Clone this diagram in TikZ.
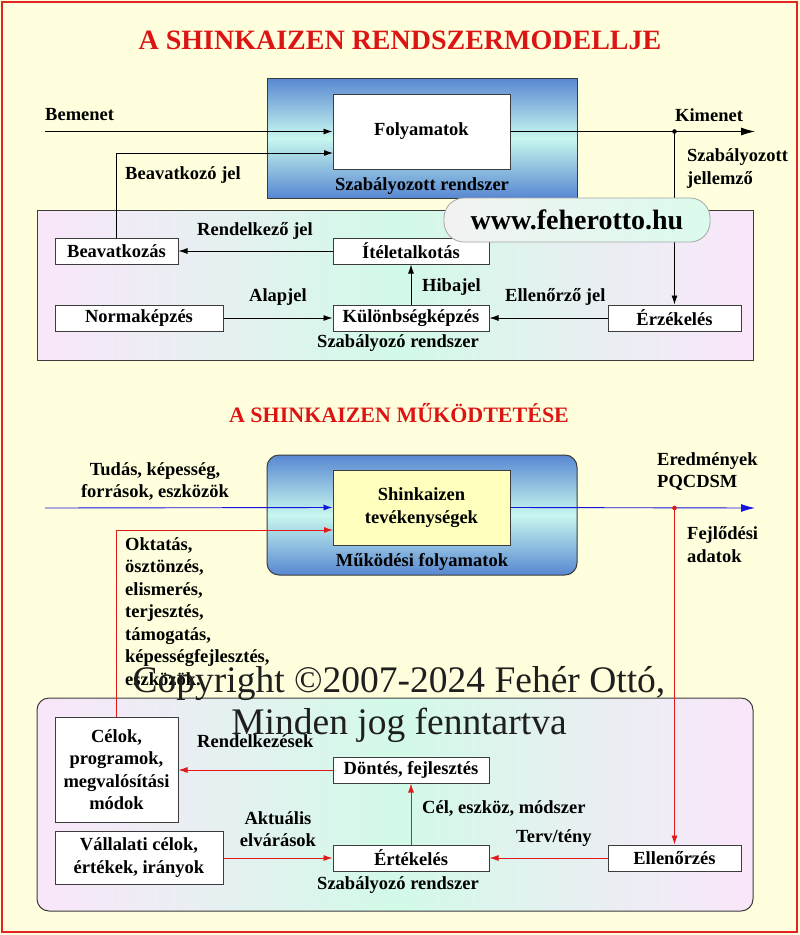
\documentclass[tikz,border=0pt]{standalone}
\usepackage{fontspec}
\setmainfont{Liberation Serif}
\usetikzlibrary{arrows.meta,positioning,calc}
\definecolor{bgyellow}{RGB}{255,255,221}
\definecolor{frame}{RGB}{230,35,35}
\definecolor{blueA}{RGB}{88,135,210}
\definecolor{blueM}{RGB}{200,248,238}
\definecolor{pinkA}{RGB}{250,230,250}
\definecolor{aquaA}{RGB}{210,250,232}
\definecolor{boxline}{RGB}{60,60,60}
\definecolor{yelbox}{RGB}{255,255,190}
\definecolor{redline}{RGB}{225,25,25}
\definecolor{blueline}{RGB}{20,20,220}
\definecolor{titlered}{RGB}{220,20,20}
\tikzset{
  lbl/.style={font=\bfseries\fontsize{18.5}{22.5}\selectfont, inner sep=0pt, text=black},
  wbox/.style={draw=boxline, line width=1pt, fill=white, inner sep=0pt, font=\bfseries\fontsize{18.5}{22.5}\selectfont},
  arr/.style={line width=0.9pt, -{Latex[length=9pt,width=6pt]}},
  rarr/.style={line width=0.9pt, draw=redline, -{Latex[length=9pt,width=6pt]}},
  barr/.style={line width=0.9pt, draw=blueline, -{Latex[length=14pt,width=8pt]}},
  bigarr/.style={line width=0.9pt, -{Latex[length=14pt,width=8pt]}},
  bluebox/.style={draw=boxline, line width=1pt, top color=blueA, bottom color=blueA, middle color=blueM},
  pinkbox/.style={draw=boxline, line width=1pt, left color=pinkA, right color=pinkA, middle color=aquaA},
}
\begin{document}
\begin{tikzpicture}[x=1pt,y=-1pt]
\useasboundingbox (0,0) rectangle (800,935);
\fill[bgyellow] (0,0) rectangle (800,935);
\draw[frame, line width=2.5pt] (2,2) rectangle (797,932);

% ===== Top titles
\node[font=\bfseries\fontsize{28}{32}\selectfont, text=titlered, inner sep=0pt] (title1) at (400,40) {A SHINKAIZEN RENDSZERMODELLJE};

% ===== Top diagram
\path[pinkbox] (37,210) rectangle (753,360);
\path[bluebox] (267,78) rectangle (577,198);
\node[wbox, minimum width=177pt, minimum height=75pt] (foly) at (421.5,131.5) {Folyamatok};
\node[lbl] (szr) at (422,186) {Szabályozott rendszer};

\node[wbox, minimum width=123pt, minimum height=26pt] (beav) at (116.5,251) {Beavatkozás};
\node[wbox, minimum width=156pt, minimum height=26pt] (itel) at (411,251) {Ítéletalkotás};
\node[wbox, minimum width=168pt, minimum height=26pt] (norm) at (139,318) {Normaképzés};
\node[wbox, minimum width=156pt, minimum height=26pt] (kul) at (411,318) {Különbségképzés};
\node[wbox, minimum width=133pt, minimum height=26pt] (erz) at (674.5,318) {Érzékelés};
\node[lbl] (szo1) at (398,343) {Szabályozó rendszer};

\coordinate (bemstart) at (45,131.5);
\coordinate (in2) at (333,153);
\coordinate (kiend) at (755,131.5);
\coordinate (kidot) at (674.5,131.5);

\draw[arr] (bemstart) -- (foly.west);
\draw[arr] (beav.north) |- (in2);
\draw[bigarr] (foly.east) -- (kiend);
\fill (kidot) circle (2.3pt);
\draw[arr] (kidot) -- (erz.north);
\draw[arr] (itel.west) -- (beav.east);
\draw[arr] (norm.east) -- (kul.west);
\draw[arr] (erz.west) -- (kul.east);
\draw[arr] (kul.north) -- (itel.south);

\node[lbl, anchor=west] (lbem) at (45,115) {Bemenet};
\node[lbl, anchor=west] (lbeavj) at (125,175) {Beavatkozó jel};
\node[lbl, anchor=west] (lkim) at (675,115) {Kimenet};
\node[lbl, anchor=west, align=left] (lszj) at (687,168.5) {Szabályozott\\jellemző};
\node[lbl, anchor=west] (lrend) at (197,231) {Rendelkező jel};
\node[lbl, anchor=west] (lalap) at (249,297) {Alapjel};
\node[lbl, anchor=west] (lell) at (505,297) {Ellenőrző jel};
\node[lbl, anchor=west] (lhiba) at (422,287) {Hibajel};

% website box
\node[draw=gray!70, line width=0.8pt, rounded corners=20pt, left color=gray!10, right color=aquaA!80!white, minimum width=266pt, minimum height=44pt, inner sep=0pt, font=\bfseries\fontsize{28}{32}\selectfont] (web) at (577,220) {www.feherotto.hu};

% ===== Bottom diagram
\node[font=\bfseries\fontsize{22}{26}\selectfont, text=titlered, inner sep=0pt] (title2) at (399,413) {A SHINKAIZEN MŰKÖDTETÉSE};

\path[pinkbox, rounded corners=12pt] (37,698) rectangle (753,911);
\path[bluebox, rounded corners=12pt] (267,455) rectangle (577,575);
\node[wbox, fill=yelbox, minimum width=177pt, minimum height=75pt, align=center] (shin) at (421.5,507.5) {Shinkaizen\\tevékenységek};
\node[lbl] (mfoly) at (422,562) {Működési folyamatok};

\node[wbox, minimum width=123pt, minimum height=105pt, align=center] (celok) at (116.5,769.5) {Célok,\\programok,\\megvalósítási\\módok};
\node[wbox, minimum width=156pt, minimum height=26pt] (dont) at (411,770) {Döntés, fejlesztés};
\node[wbox, minimum width=168pt, minimum height=53pt, align=center] (vall) at (139,857.5) {Vállalati célok,\\értékek, irányok};
\node[wbox, minimum width=156pt, minimum height=26pt] (ert) at (411,858) {Értékelés};
\node[wbox, minimum width=133pt, minimum height=26pt] (ell) at (674.5,858) {Ellenőrzés};
\node[lbl] (szo2) at (398,885) {Szabályozó rendszer};

\coordinate (tudstart) at (45,508);
\coordinate (rin2) at (333,530);
\coordinate (eredend) at (755,508);
\coordinate (rdot) at (674.5,508);

\draw[barr, -{Latex[length=9pt,width=6pt]}] (tudstart) -- (shin.west);
\draw[rarr] (celok.north) |- (rin2);
\draw[barr] (shin.east) -- (eredend);
\draw[rarr] (rdot) -- (ell.north);
\fill[redline] (rdot) circle (2.3pt);
\draw[rarr] (dont.west) -- (celok.east |- dont.west);
\draw[rarr] (vall.east |- ert.west) -- (ert.west);
\draw[rarr] (ell.west) -- (ert.east);
\draw[rarr] (ert.north) -- (dont.south);

\node[lbl, align=center] (ltud) at (155,481.5) {Tudás, képesség,\\források, eszközök};
\node[lbl, anchor=north west, align=left] (lokt) at (125,537) {Oktatás,\\ösztönzés,\\elismerés,\\terjesztés,\\támogatás,\\képességfejlesztés,\\eszközök.};
\node[lbl, anchor=west, align=left] (lered) at (657,471.5) {Eredmények\\PQCDSM};
\node[lbl, anchor=west, align=left] (lfejl) at (687,544.5) {Fejlődési\\adatok};
\node[lbl, anchor=west] (lrendk) at (197,741) {Rendelkezések};
\node[lbl, align=center] (lakt) at (278,829) {Aktuális\\elvárások};
\node[lbl, anchor=west] (lcel) at (422,808) {Cél, eszköz, módszer};
\node[lbl, anchor=west] (lterv) at (516,838) {Terv/tény};

% ===== Watermark
\node[font=\fontsize{37.5}{42}\selectfont, text=black!88, inner sep=0pt, align=center] (copy) at (399,704) {Copyright ©2007-2024 Fehér Ottó,\\Minden jog fenntartva};
\end{tikzpicture}
\end{document}
